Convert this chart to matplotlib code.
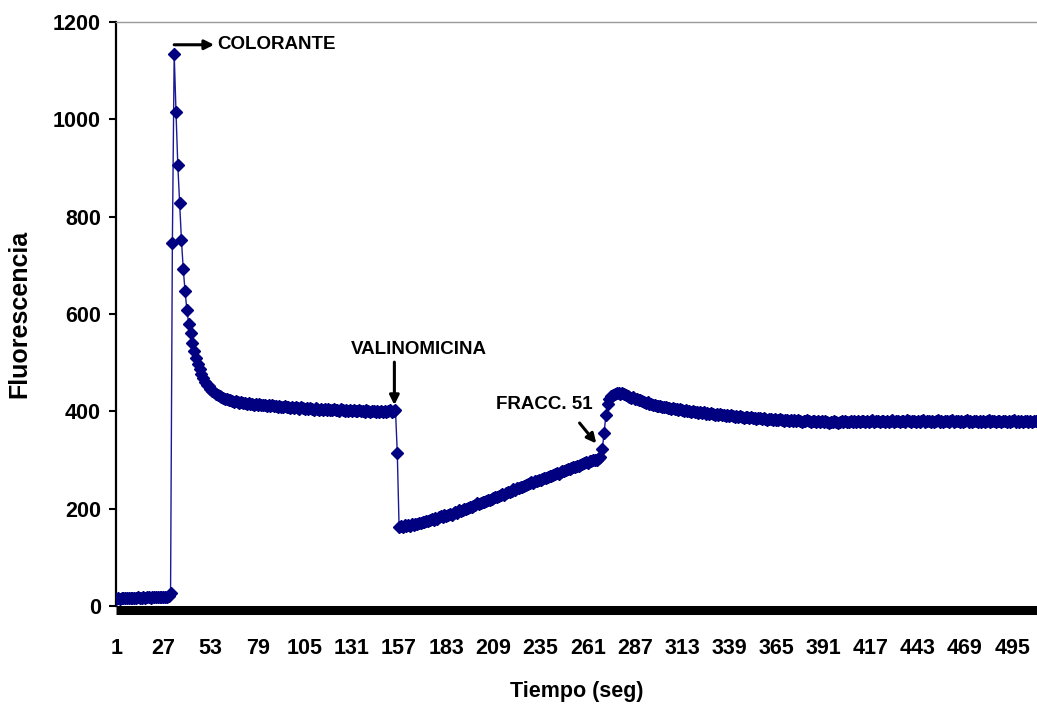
import matplotlib.pyplot as plt

plt.rcParams["font.family"] = ["Liberation Sans", "DejaVu Sans"]
plt.rcParams["font.weight"] = "bold"
plt.rcParams["axes.labelweight"] = "bold"

# fluorescence readings, one per second
fluor = [
    15, 16, 15, 17, 16, 16, 17, 16, 17, 17,
    16, 17, 18, 17, 17, 18, 17, 18, 18, 17,
    18, 18, 19, 18, 18, 19, 18, 19, 19, 20,
    27, 745, 1135, 1015, 905, 828, 752, 692, 647, 608,
    580, 560, 541, 524, 509, 497, 486, 476, 468, 461,
    455, 451, 446, 442, 439, 436, 433, 432, 429, 428,
    426, 425, 423, 424, 421, 420, 421, 419, 418, 419,
    417, 418, 416, 417, 415, 416, 414, 415, 413, 415,
    412, 414, 412, 411, 413, 410, 412, 410, 411, 409,
    411, 409, 408, 410, 408, 409, 407, 409, 406, 408,
    407, 405, 408, 406, 405, 407, 404, 406, 405, 403,
    406, 404, 403, 405, 403, 404, 402, 405, 403, 402,
    404, 402, 403, 401, 404, 402, 401, 403, 401, 402,
    400, 403, 401, 400, 402, 400, 401, 399, 402, 400,
    399, 401, 400, 398, 401, 399, 400, 398, 401, 399,
    400, 402, 399, 401, 403, 315, 162, 165, 163, 166,
    164, 167, 165, 168, 166, 169, 168, 171, 170, 173,
    172, 175, 174, 176, 178, 177, 180, 179, 182, 184,
    183, 186, 185, 188, 189, 188, 191, 193, 192, 197,
    196, 198, 200, 199, 202, 204, 203, 206, 208, 211,
    210, 212, 214, 213, 216, 218, 217, 220, 222, 225,
    224, 227, 228, 230, 229, 232, 234, 235, 237, 240,
    239, 242, 243, 245, 244, 247, 249, 250, 252, 254,
    253, 256, 257, 259, 258, 261, 263, 264, 266, 268,
    267, 270, 271, 273, 272, 275, 277, 278, 280, 282,
    281, 284, 285, 286, 288, 287, 290, 291, 293, 295,
    294, 297, 298, 299, 301, 300, 304, 306, 322, 355,
    392, 416, 426, 431, 434, 436, 437, 438, 436, 437,
    435, 433, 431, 430, 428, 429, 426, 425, 423, 424,
    421, 420, 418, 419, 416, 415, 413, 414, 411, 410,
    411, 409, 408, 409, 406, 407, 405, 406, 404, 405,
    403, 404, 402, 401, 403, 400, 401, 399, 400, 398,
    399, 397, 398, 396, 398, 395, 397, 394, 396, 395,
    393, 395, 392, 394, 392, 393, 391, 393, 390, 392,
    390, 389, 391, 388, 390, 389, 387, 389, 388, 386,
    388, 386, 387, 385, 387, 386, 384, 386, 385, 383,
    385, 384, 383, 385, 383, 382, 384, 383, 381, 383,
    382, 380, 383, 381, 382, 380, 382, 381, 379, 381,
    380, 382, 380, 379, 381, 380, 378, 381, 379, 380,
    378, 380, 379, 377, 379, 378, 380, 378, 377, 379,
    380, 378, 381, 379, 378, 380, 379, 381, 378, 380,
    379, 381, 380, 378, 381, 379, 380, 382, 379, 381,
    380, 378, 381, 380, 379, 381, 378, 380, 382, 379,
    381, 380, 378, 380, 381, 379, 382, 380, 379, 381,
    380, 378, 381, 379, 380, 382, 379, 381, 380, 378,
    381, 379, 380, 382, 379, 381, 378, 380, 381, 379,
    380, 382, 379, 381, 380, 378, 381, 379, 380, 382,
    379, 381, 378, 380, 381, 379, 380, 378, 381, 379,
    380, 382, 379, 381, 380, 378, 381, 380, 379, 381,
    380, 378, 381, 379, 380, 382, 379, 380, 378, 381,
    379, 380, 381, 378, 380, 379, 381, 380, 378, 380,
]
tiempo = list(range(1, len(fluor) + 1))
xticks = list(range(1, 496, 26))
yticks = [0, 200, 400, 600, 800, 1000, 1200]

fig = plt.figure(figsize=(10.37, 7.06), dpi=100)
ax = fig.add_axes([0.112, 0.1416, 0.888, 0.8274])

ax.plot(tiempo, fluor, color="#1a1a96", lw=1, marker="D", ms=6.5,
        mfc="#000080", mec="#000080", zorder=3)

ax.set_xlim(1, 508.7)
ax.set_ylim(0, 1200)
ax.set_xticks(xticks)
ax.set_yticks(yticks)
ax.tick_params(axis="both", labelsize=15.5)
ax.tick_params(axis="x", length=0, pad=20)
ax.tick_params(axis="y", length=5, width=1.5, pad=6)

ax.spines["right"].set_visible(False)
ax.spines["top"].set_color("#999999")
ax.spines["top"].set_linewidth(1)
ax.spines["left"].set_linewidth(1.6)
ax.spines["bottom"].set_linewidth(6.5)
ax.spines["bottom"].set_position(("outward", 3))
ax.spines["bottom"].set_capstyle("butt")

ax.set_xlabel("Tiempo (seg)", fontsize=15.5, labelpad=16)
ax.set_ylabel("Fluorescencia", fontsize=18)
ax.yaxis.set_label_coords(-0.092, 0.5)

arrow = dict(arrowstyle="-|>", color="black", lw=2.2, mutation_scale=14,
             shrinkA=0, shrinkB=0)
ax.annotate("", xy=(55, 1153), xytext=(33, 1153), arrowprops=arrow)
ax.text(56.7, 1153, "COLORANTE", fontsize=13.5, va="center", ha="left")
ax.annotate("", xy=(154.4, 413), xytext=(154.4, 501), arrowprops=arrow)
ax.text(168, 526, "VALINOMICINA", fontsize=13.5, va="center", ha="center")
ax.annotate("", xy=(265.7, 334), xytext=(256.5, 376), arrowprops=arrow)
ax.text(237, 413, "FRACC. 51", fontsize=13.5, va="center", ha="center")

fig.savefig("out.png", dpi=100)
